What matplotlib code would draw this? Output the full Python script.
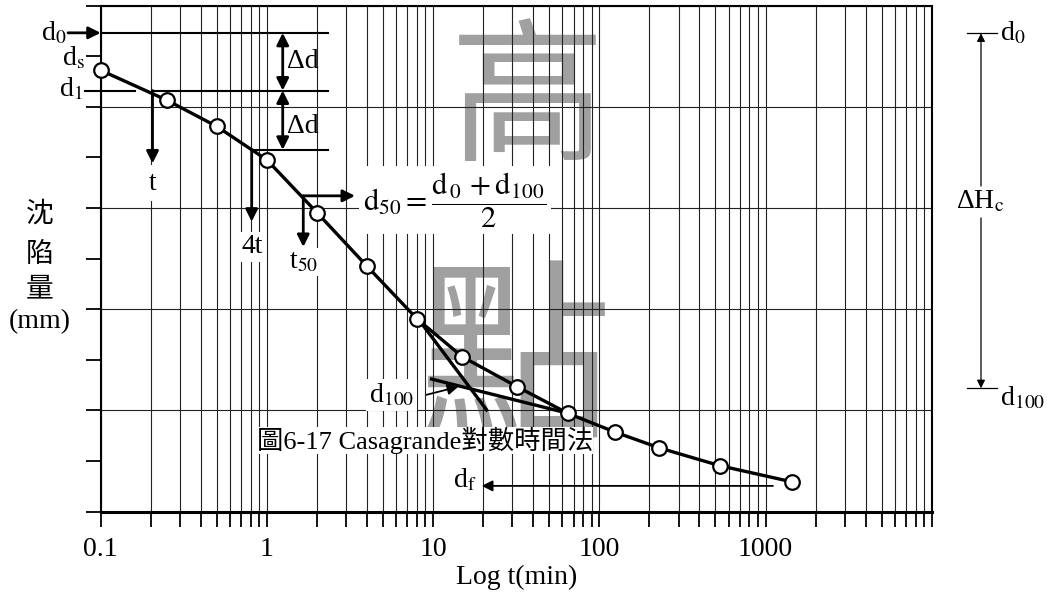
import matplotlib
matplotlib.use('Agg')
from matplotlib import pyplot as plt
from matplotlib.lines import Line2D
from matplotlib.ticker import LogLocator, NullFormatter
import numpy as np

plt.rcParams['font.family'] = ['Liberation Serif', 'Noto Sans CJK TC']
plt.rcParams['mathtext.fontset'] = 'stix'

# dial readings vs. time (settlement grows downwards)
times = [0.1, 0.25, 0.5, 1, 2, 4, 8, 15, 32, 65, 125, 230, 530, 1440]
readings = [1.28, 1.87, 2.39, 3.05, 4.09, 5.15, 6.19, 6.94, 7.53, 8.06, 8.43, 8.74, 9.09, 9.41]

tick_vals = [0.1, 1, 10, 100, 1000, 10000]
tick_labels = ['0.1', '1', '10', '100', '1000', '']

# construction levels (same units as readings)
d0 = 0.54
d1 = 1.68
d2 = 2.85
d50 = 3.76
df = 9.49
t1 = 0.205
t4 = 0.81
t50 = 1.655

# the two tangents used for d100
steep_t = [8.13, 21.0]
steep_d = [6.19, 7.99]
flat_t = [9.8, 65.6]
flat_d = [7.38, 8.06]

W, H = 1055, 593
FS = 20


def fxy(px, py):
    # picture pixels -> figure fraction
    return (px / W, 1 - py / H)


def arrow(a, b, lw=1.5, ms=18, style='-|>', coords='data'):
    ax.annotate('', xy=b, xytext=a, xycoords=coords, textcoords=coords,
                annotation_clip=False,
                arrowprops=dict(arrowstyle=style, lw=lw, color='k',
                                shrinkA=0, shrinkB=0, mutation_scale=ms))


fig = plt.figure(figsize=(W / 100, H / 100), dpi=100)
ax = fig.add_axes([100.7 / W, 1 - 511.7 / H, 831 / W, 506.2 / H])
ax.set_xscale('log')
ax.set_xlim(0.1, 10000)
ax.set_ylim(10, 0)
ax.set_axisbelow(True)

ax.set_xticks(tick_vals)
ax.set_xticklabels(tick_labels)
ax.xaxis.set_minor_locator(LogLocator(base=10, subs=np.arange(2, 10), numticks=30))
ax.xaxis.set_minor_formatter(NullFormatter())
ax.set_yticks([0, 2, 4, 6, 8, 10])
ax.set_yticks([1, 3, 5, 7, 9], minor=True)
ax.set_yticklabels([])
ax.tick_params(axis='both', which='both', direction='out', length=11,
               width=1.3, labelsize=FS, pad=7, colors='k')
ax.grid(True, which='both', axis='x', color='#222222', lw=0.8)
ax.grid(True, which='major', axis='y', color='#222222', lw=0.8)
for s in ax.spines.values():
    s.set_linewidth(1.5)
ax.spines['bottom'].set_linewidth(2.2)
ax.set_xlabel('Log t(min)', fontsize=FS, labelpad=2)

# watermark
ax.text(*fxy(528, 105), '高', transform=fig.transFigure, fontsize=112,
        color='#a0a0a0', ha='center', va='center', zorder=0.3,
        family='Noto Sans CJK TC')
ax.text(*fxy(515, 368), '點', transform=fig.transFigure, fontsize=140,
        color='#a0a0a0', ha='center', va='center', zorder=0.3,
        family='Noto Sans CJK TC')

# curve
ax.plot(times, readings, color='k', lw=2.4, zorder=4)
ax.plot(steep_t, steep_d, color='k', lw=2.4, zorder=4)
ax.plot(flat_t, flat_d, color='k', lw=2.4, zorder=4)
ax.plot(times, readings, 'o', ms=10.5, mfc='white', mec='k', mew=1.6,
        zorder=5, clip_on=False)

# d0 / d1 / delta d construction
ax.plot([0.1, 2.33], [d0, d0], color='k', lw=1.5, zorder=3)
ax.plot([0.0805, 0.161], [d1, d1], color='k', lw=1.5, zorder=3, clip_on=False)
ax.plot([0.206, 2.33], [d1, d1], color='k', lw=1.5, zorder=3)
ax.plot([0.81, 2.33], [d2, d2], color='k', lw=1.5, zorder=3)
arrow((0.0636, d0), (0.1, d0), lw=2)
arrow((1.245, d0), (1.245, d1), lw=2, style='<|-|>')
arrow((1.245, d1), (1.245, d2), lw=2, style='<|-|>')
ax.text(1.65, 1.11, 'Δd', fontsize=FS, ha='center', va='center')
ax.text(1.65, 2.39, 'Δd', fontsize=FS, ha='center', va='center')

arrow((t1, d1), (t1, 3.12), lw=2)
ax.text(t1, 3.51, 't', fontsize=FS, ha='center', va='center', zorder=3,
        bbox=dict(fc='white', ec='none', pad=4))
arrow((t4, d2), (t4, 4.27), lw=2)
ax.text(t4, 4.77, '4t', fontsize=FS, ha='center', va='center', zorder=3,
        bbox=dict(fc='white', ec='none', pad=2))
arrow((t50, d50), (3.39, d50), lw=2)
arrow((t50, d50), (t50, 4.77), lw=2)
ax.text(t50, 5.06, r't$_{50}$', fontsize=FS, ha='center', va='center', zorder=3,
        bbox=dict(fc='white', ec='none', pad=1))
ax.text(3.8, 3.84,
        r'$\mathrm{d}_{50}=\dfrac{\mathrm{d}_{\,0}\,+\mathrm{d}_{100}}{2}$',
        fontsize=22, ha='left', va='center', zorder=3,
        bbox=dict(fc='white', ec='none', pad=3))

# d100 and df
ax.text(5.63, 7.69, r'd$_{100}$', fontsize=FS, ha='center', va='center', zorder=3,
        bbox=dict(fc='white', ec='none', pad=2))
arrow((9.14, 7.69), (14.2, 7.53), lw=1.3, ms=16)
arrow((1109, df), (19.6, df), lw=1.3, ms=16)
ax.text(15.6, 9.37, r'd$_\mathrm{f}$', fontsize=FS, ha='center', va='center')

ax.text(8.9, 8.6, '圖6-17 Casagrande對數時間法', fontsize=19, ha='center',
        va='center', zorder=3, bbox=dict(fc='white', ec='none', pad=0))

# left side labels
fig.text(*fxy(67, 40), r'd$_0$', fontsize=FS, ha='right', va='baseline')
fig.text(*fxy(85, 65), r'd$_\mathrm{s}$', fontsize=FS, ha='right', va='baseline')
fig.text(*fxy(83, 96.5), r'd$_1$', fontsize=FS, ha='right', va='baseline')
for txt, py in zip(['沈', '陷', '量', '(mm)'], [215, 255, 290, 322]):
    fig.text(*fxy(40, py), txt, fontsize=FS, ha='center', va='center')

# right side delta Hc
for py in (33.3, 388.3):
    fig.add_artist(Line2D([966.7 / W, 996.7 / W], [1 - py / H] * 2,
                          color='k', lw=0.9))
arrow(fxy(981, 186), fxy(981, 33.3), lw=0.9, ms=12, coords='figure fraction')
arrow(fxy(981, 218), fxy(981, 388.3), lw=0.9, ms=12, coords='figure fraction')
fig.text(*fxy(980, 201.7), r'ΔH$_\mathrm{c}$', fontsize=FS, ha='center', va='center')
fig.text(*fxy(1000, 40), r'd$_0$', fontsize=FS, ha='left', va='baseline')
fig.text(*fxy(1000, 405), r'd$_{100}$', fontsize=FS, ha='left', va='baseline')

fig.savefig('out.png', dpi=100)
